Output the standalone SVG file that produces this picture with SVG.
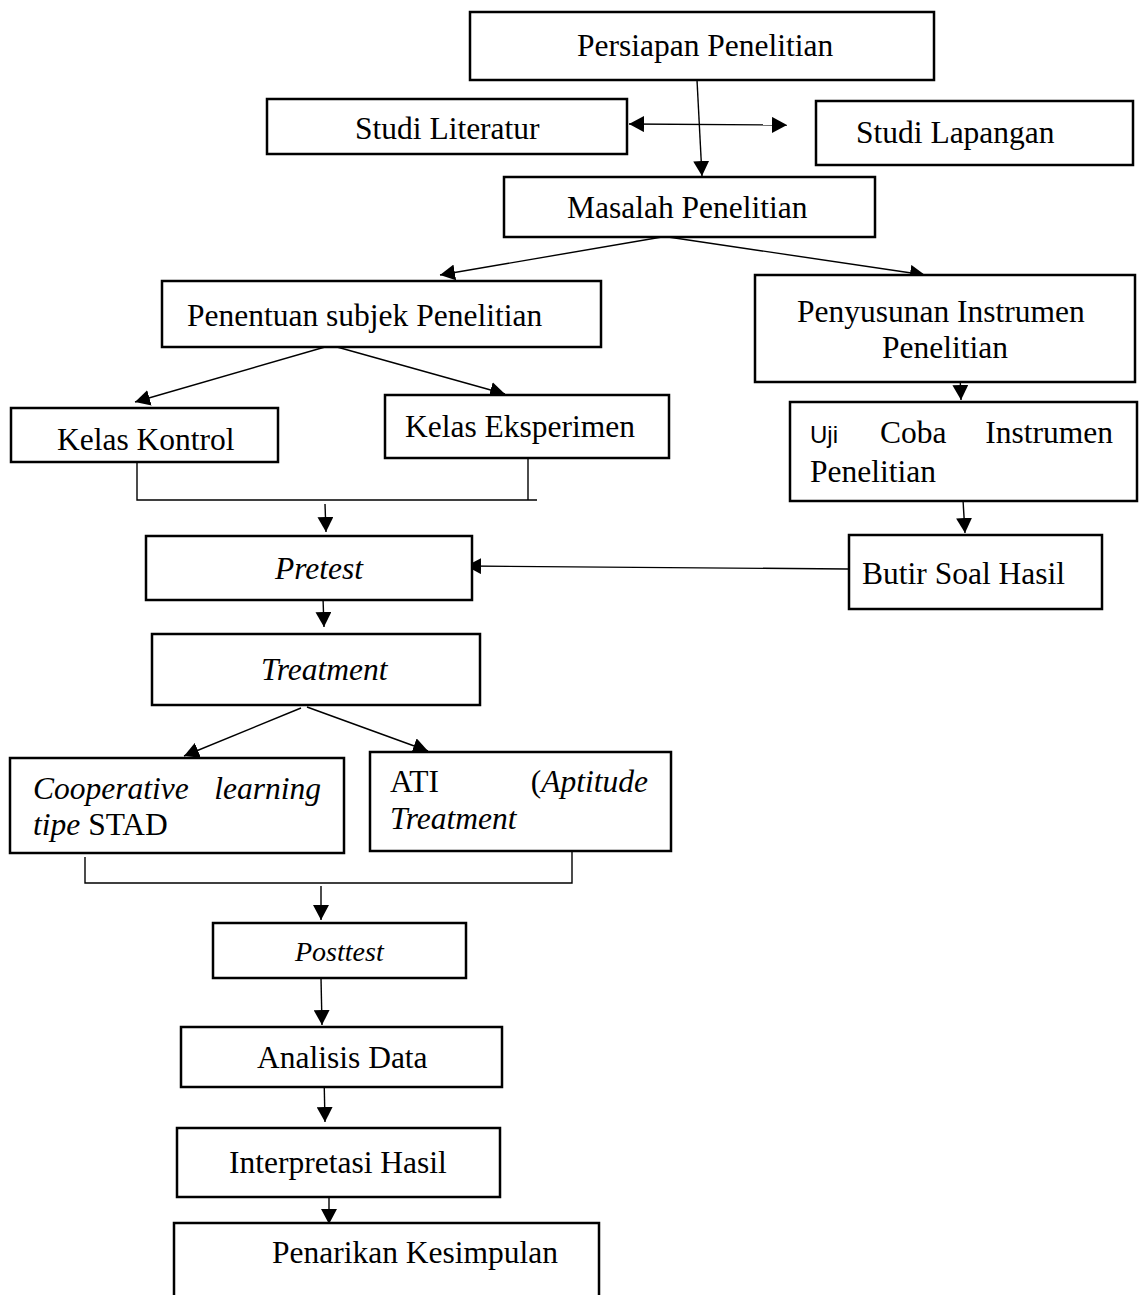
<svg xmlns="http://www.w3.org/2000/svg" width="1141" height="1295" viewBox="0 0 1141 1295">
<defs>
<style>
rect.box{fill:#fff;stroke:#000;stroke-width:2.5}
text{font-family:"Liberation Serif","Times New Roman",serif;font-size:31.5px;fill:#000}
.it{font-style:italic}
.sans{font-family:"Liberation Sans",Arial,sans-serif;font-size:24px}
.ln{fill:none;stroke:#000;stroke-width:1.4}
.arr{marker-end:url(#ah)}
</style>
<marker id="ah" viewBox="0 0 15 16" refX="15" refY="8" markerWidth="15" markerHeight="16" markerUnits="userSpaceOnUse" orient="auto-start-reverse">
<path d="M0,0 L15,8 L0,16 z" fill="#000"/>
</marker>
</defs>
<rect width="1141" height="1295" fill="#fff"/>

<g id="connectors">
<line class="ln arr" x1="697" y1="80" x2="702" y2="176"/>
<line class="ln arr" x1="629" y1="124" x2="787" y2="125" style="marker-start:url(#ah)"/>
<line class="ln arr" x1="662" y1="237" x2="440" y2="275"/>
<line class="ln arr" x1="668" y1="237" x2="925" y2="275"/>
<line class="ln arr" x1="325" y1="347" x2="135" y2="402"/>
<line class="ln arr" x1="337" y1="347" x2="505" y2="394"/>
<line class="ln arr" x1="960" y1="375" x2="961" y2="400"/>
<polyline class="ln" points="137,458 137,500 537,500"/>
<line class="ln" x1="528" y1="453" x2="528" y2="500"/>
<line class="ln arr" x1="325" y1="504" x2="326" y2="532"/>
<line class="ln arr" x1="963" y1="500" x2="965" y2="533"/>
<line class="ln arr" x1="848" y1="569" x2="466" y2="566"/>
<line class="ln arr" x1="323" y1="598" x2="324" y2="627"/>
<line class="ln arr" x1="301" y1="708" x2="184" y2="756"/>
<line class="ln arr" x1="307" y1="707" x2="428" y2="751"/>
<polyline class="ln" points="85,857 85,883 572,883 572,851"/>
<line class="ln arr" x1="321" y1="886" x2="321" y2="920"/>
<line class="ln arr" x1="321" y1="978" x2="322" y2="1025"/>
<line class="ln arr" x1="324" y1="1075" x2="325" y2="1122"/>
<line class="ln arr" x1="329" y1="1180" x2="329" y2="1224"/>
</g>

<g id="persiapan"><rect class="box" x="470" y="12" width="464" height="68"/><text x="577" y="56">Persiapan Penelitian</text></g>
<g id="studi-literatur"><rect class="box" x="267" y="99" width="360" height="55"/><text x="355" y="139">Studi Literatur</text></g>
<g id="studi-lapangan"><rect class="box" x="816" y="101" width="317" height="64"/><text x="856" y="143">Studi Lapangan</text></g>
<g id="masalah"><rect class="box" x="504" y="177" width="371" height="60"/><text x="567" y="218">Masalah Penelitian</text></g>
<g id="penentuan"><rect class="box" x="162" y="281" width="439" height="66"/><text x="187" y="326">Penentuan subjek Penelitian</text></g>
<g id="penyusunan"><rect class="box" x="755" y="275" width="380" height="107"/><text x="797" y="322">Penyusunan Instrumen</text><text x="882" y="358">Penelitian</text></g>
<g id="kelas-kontrol"><rect class="box" x="11" y="408" width="267" height="54"/><text x="57" y="450">Kelas Kontrol</text></g>
<g id="kelas-eksperimen"><rect class="box" x="385" y="395" width="284" height="63"/><text x="405" y="437">Kelas Eksperimen</text></g>
<g id="uji-coba"><rect class="box" x="790" y="402" width="347" height="99"/><text class="sans" x="810" y="443">Uji</text><text x="880" y="443">Coba</text><text x="1113" y="443" text-anchor="end">Instrumen</text><text x="810" y="482">Penelitian</text></g>
<g id="pretest"><rect class="box" x="146" y="536" width="326" height="64"/><text class="it" x="275" y="579">Pretest</text></g>
<g id="butir-soal"><rect class="box" x="849" y="535" width="253" height="74"/><text x="862" y="584">Butir Soal Hasil</text></g>
<g id="treatment"><rect class="box" x="152" y="634" width="328" height="71"/><text class="it" x="261" y="680">Treatment</text></g>
<g id="cooperative"><rect class="box" x="10" y="758" width="334" height="95"/><text class="it" x="33" y="799">Cooperative</text><text class="it" x="321" y="799" text-anchor="end">learning</text><text x="33" y="835"><tspan class="it">tipe</tspan> STAD</text></g>
<g id="ati"><rect class="box" x="370" y="752" width="301" height="99"/><text x="390" y="792">ATI</text><text x="648" y="792" text-anchor="end">(<tspan class="it">Aptitude</tspan></text><text class="it" x="390" y="829">Treatment</text></g>
<g id="posttest"><rect class="box" x="213" y="923" width="253" height="55"/><text class="it" x="295" y="961" style="font-size:28px">Posttest</text></g>
<g id="analisis"><rect class="box" x="181" y="1027" width="321" height="60"/><text x="257" y="1068">Analisis Data</text></g>
<g id="interpretasi"><rect class="box" x="177" y="1128" width="323" height="69"/><text x="229" y="1173">Interpretasi Hasil</text></g>
<g id="penarikan"><rect class="box" x="174" y="1223" width="425" height="90"/><text x="272" y="1263">Penarikan Kesimpulan</text></g>
</svg>
